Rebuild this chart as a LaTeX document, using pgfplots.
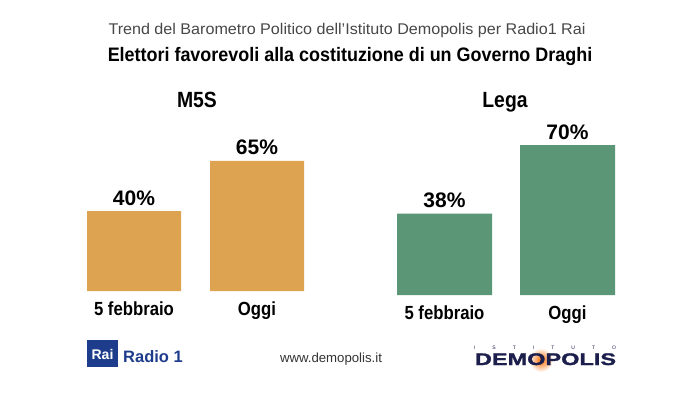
\documentclass[border=0pt]{standalone}
\usepackage{pgfplots}
\pgfplotsset{compat=1.18}
\usepackage{fontspec}
\setmainfont{Liberation Sans}
\newfontfamily\condb[FakeStretch=0.88]{Liberation Sans}
\newfontfamily\titlef[FakeStretch=0.92]{Liberation Sans}
\newfontfamily\subf[FakeStretch=1.04]{Liberation Sans}
\newfontfamily\widef[FakeStretch=1.4,FakeBold=1.5]{Liberation Sans}
\definecolor{orangebar}{RGB}{221,163,80}
\definecolor{greenbar}{RGB}{91,150,119}
\definecolor{raiblue}{RGB}{30,60,140}
\definecolor{navy}{RGB}{28,30,75}
\pgfplotsset{
  barpanel/.style={
    scale only axis, width=246pt, anchor=south west,
    xmin=-0.5, xmax=1.5, ymin=0, ymax=100,
    axis line style={draw=none}, major tick length=0pt,
    ytick=\empty, xtick={0,1}, xticklabels={5 febbraio,Oggi},
    xticklabel style={anchor=base, yshift=-24pt, inner sep=0pt,
      font=\condb\bfseries\fontsize{19}{22}\selectfont},
    clip=false,
    /pgf/number format/assume math mode=true,
    nodes near coords={\pgfmathprintnumber{\pgfplotspointmeta}\%},
    every node near coord/.append style={anchor=base, yshift=6pt, inner sep=0pt,
      text=black, font=\bfseries\fontsize{21}{24}\selectfont},
  }
}
\begin{document}
\begin{tikzpicture}[x=1pt,y=1pt]
\path[use as bounding box] (0pt,0pt) rectangle (700pt,394pt);
\node[anchor=base, inner sep=0pt, text=black!72, font=\subf\fontsize{15.5}{17}\selectfont] at (347pt,359pt) {Trend del Barometro Politico dell’Istituto Demopolis per Radio1 Rai};
\node[anchor=base, inner sep=0pt, font=\titlef\bfseries\fontsize{19.5}{22}\selectfont] at (350pt,332pt) {Elettori favorevoli alla costituzione di un Governo Draghi};
\node[anchor=base, inner sep=0pt, font=\condb\bfseries\fontsize{22}{24}\selectfont] at (197pt,286pt) {M5S};
\node[anchor=base, inner sep=0pt, font=\condb\bfseries\fontsize{22}{24}\selectfont] at (505pt,286pt) {Lega};

\begin{axis}[barpanel, at={(72.5pt,103pt)}, height=200pt]
\addplot[ybar, fill=orangebar, draw=none, bar width=94pt] coordinates {(0,40) (1,65)};
\end{axis}
\begin{axis}[barpanel, at={(383pt,99pt)}, height=214pt]
\addplot[ybar, fill=greenbar, draw=none, bar width=95pt] coordinates {(0,38) (1,70)};
\end{axis}

% Rai Radio 1 logo
\fill[raiblue] (87pt,27pt) rectangle (118pt,54pt);
\node[anchor=base, inner sep=0pt, text=white, font=\bfseries\fontsize{14}{16}\selectfont] at (102.5pt,35pt) {Rai};
\node[anchor=base west, inner sep=0pt, text=raiblue, font=\bfseries\fontsize{16.5}{18}\selectfont] at (123pt,32pt) {Radio 1};

% website
\node[anchor=base, inner sep=0pt, text=black!80, font=\fontsize{13.2}{15}\selectfont] at (331pt,32pt) {www.demopolis.it};

% Demopolis logo
\shade[inner color=orange!85!red, outer color=white] (541pt,34pt) circle (12pt);
\node[anchor=base, inner sep=0pt, text=navy, font=\fontsize{5}{6}\selectfont] at (545pt,45pt) {\makebox[142pt][s]{I\hfill S\hfill T\hfill I\hfill T\hfill U\hfill T\hfill O}};
\node[anchor=base, inner sep=0pt, text=navy, font=\widef\bfseries\fontsize{16.8}{18}\selectfont] at (545.5pt,29pt) {DEMOPOLIS};
\end{tikzpicture}
\end{document}
